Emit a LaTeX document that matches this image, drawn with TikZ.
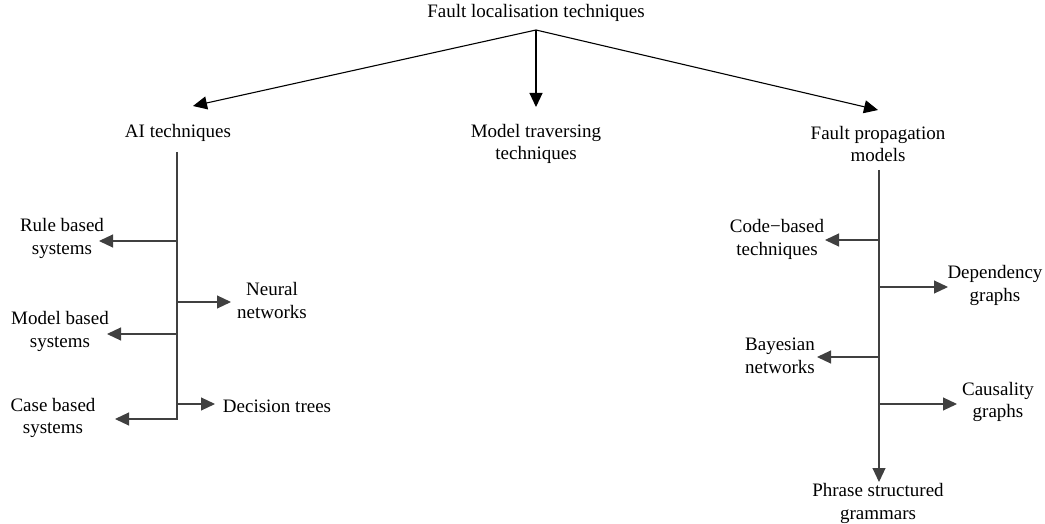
\documentclass[tikz,border=0pt]{standalone}
\usepackage{fontspec}
\setmainfont{Liberation Serif}
\usetikzlibrary{arrows.meta}
\begin{document}
\begin{tikzpicture}[x=1pt,y=-1pt,
  lbl/.style={align=center,inner sep=0pt,font=\fontsize{19}{22.5}\selectfont},
  conn/.style={draw=black!75,line width=1.1pt},
  arr/.style={conn,-{Triangle[length=14pt,width=13pt]}},
  toparr/.style={draw=black,line width=1.1pt,-{Triangle[length=14pt,width=13pt]}}]
\useasboundingbox (0,0) rectangle (1045,524);
% text nodes
\node[lbl] (top) at (536,13) {Fault localisation techniques};
\node[lbl] (ai) at (178,133) {AI techniques};
\node[lbl] (mt) at (536,144) {Model traversing\\techniques};
\node[lbl] (fp) at (878,144) {Fault propagation\\models};
\node[lbl] (rule) at (62,238.5) {Rule based\\systems};
\node[lbl] (neural) at (272,300.5) {Neural\\networks};
\node[lbl] (modelb) at (60,331.5) {Model based\\systems};
\node[lbl] (dec) at (277,406) {Decision trees};
\node[lbl] (case) at (53,418) {Case based\\systems};
\node[lbl] (code) at (777,239.5) {Code−based\\techniques};
\node[lbl] (dep) at (995,285.5) {Dependency\\graphs};
\node[lbl] (bayes) at (780,356) {Bayesian\\networks};
\node[lbl] (caus) at (998,402) {Causality\\graphs};
\node[lbl] (phrase) at (878,503.5) {Phrase structured\\grammars};
% coordinates
\coordinate (topo) at (536,30);
\coordinate (aitip) at (193,106);
\coordinate (mttip) at (536,107);
\coordinate (fptip) at (878,110);
\coordinate (ais) at (177,152);
\coordinate (aie) at (177,419);
\coordinate (a1) at (177,241); \coordinate (rulet) at (99,241);
\coordinate (a2) at (177,302); \coordinate (neut) at (231,302);
\coordinate (a3) at (177,334); \coordinate (modt) at (107,334);
\coordinate (a4) at (177,404); \coordinate (dect) at (215,404);
\coordinate (caset) at (115,419);
\coordinate (fps) at (879,170);
\coordinate (fpe) at (879,482);
\coordinate (b1) at (879,240); \coordinate (codet) at (825,240);
\coordinate (b2) at (879,287); \coordinate (dept) at (948,287);
\coordinate (b3) at (879,357); \coordinate (bayt) at (817,357);
\coordinate (b4) at (879,404); \coordinate (caut) at (957,404);
% top arrows
\draw[toparr] (topo) -- (aitip);
\draw[toparr] (topo) -- (mttip);
\draw[toparr] (topo) -- (fptip);
% AI spine
\draw[arr] (ais) -- (aie) -- (caset);
\draw[arr] (a1) -- (rulet);
\draw[arr] (a2) -- (neut);
\draw[arr] (a3) -- (modt);
\draw[arr] (a4) -- (dect);
% FP spine
\draw[arr] (fps) -- (fpe);
\draw[arr] (b1) -- (codet);
\draw[arr] (b2) -- (dept);
\draw[arr] (b3) -- (bayt);
\draw[arr] (b4) -- (caut);
\end{tikzpicture}
\end{document}
